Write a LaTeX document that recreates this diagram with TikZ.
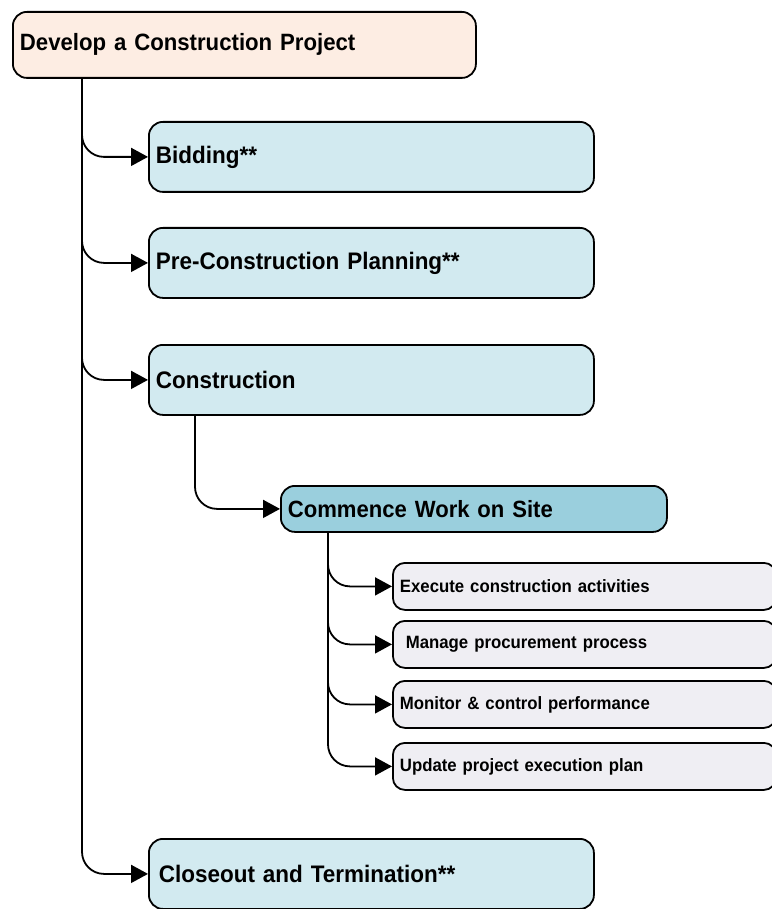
\documentclass[tikz,border=0pt]{standalone}
\usepackage{fontspec}
\setmainfont{Liberation Sans}[FakeStretch=0.94]
\usetikzlibrary{arrows.meta}
\definecolor{rootfill}{RGB}{253,237,227}
\definecolor{lvlfill}{RGB}{210,234,240}
\definecolor{cwsfill}{RGB}{154,207,221}
\definecolor{subfill}{RGB}{239,238,243}
\begin{document}
\begin{tikzpicture}[x=1pt,y=-1pt,
  box/.style={draw=black, line width=1.8pt, rounded corners=14pt, anchor=north west,
    inner xsep=7pt, inner ysep=0pt, align=left},
  lvl/.style={box, fill=lvlfill, text width=431pt, minimum height=70pt, font=\fontsize{23.9}{28}\selectfont\bfseries},
  subbox/.style={box, fill=subfill, rounded corners=12pt, text width=369pt, minimum height=47pt, font=\fontsize{17.85}{21}\selectfont\bfseries},
  conn/.style={draw=black, line width=1.8pt, rounded corners=22pt, -{Triangle[length=17pt,width=18pt]}}
]
\useasboundingbox (0,0) rectangle (771,909);

\node[box, fill=rootfill, text width=449pt, minimum height=66pt, font=\fontsize{23.6}{28}\selectfont\bfseries] (root) at (12,11) {Develop a Construction Project};

\node[lvl] (bid) at (148,121) {Bidding**};
\node[lvl] (pre) at (148,227) {Pre-Construction Planning**};
\node[lvl] (cons) at (148,344) {Construction};
\node[box, fill=cwsfill, text width=372pt, minimum height=46pt, font=\fontsize{23.5}{27}\selectfont\bfseries] (cws) at (280,485) {Commence Work on Site};

\node[subbox] (exe) at (392,562) {Execute construction activities};
\node[subbox] (man) at (392,620) {\,\,Manage procurement process};
\node[subbox] (mon) at (392,680) {Monitor \& control performance};
\node[subbox] (upd) at (392,742) {Update project execution plan};

\node[lvl] (close) at (148,838) {\kern3pt Closeout and Termination**};

\coordinate (t0) at ([xshift=70pt]root.south west);
\coordinate (c0) at ([xshift=47pt]cons.south west);
\coordinate (w0) at ([xshift=48pt]cws.south west);

\draw[conn] (t0) |- (bid.west);
\draw[conn] (t0) |- (pre.west);
\draw[conn] (t0) |- (cons.west);
\draw[conn] (t0) |- (close.west);
\draw[conn] (c0) |- (cws.west);
\draw[conn] (w0) |- (exe.west);
\draw[conn] (w0) |- (man.west);
\draw[conn] (w0) |- (mon.west);
\draw[conn] (w0) |- (upd.west);
\end{tikzpicture}
\end{document}
